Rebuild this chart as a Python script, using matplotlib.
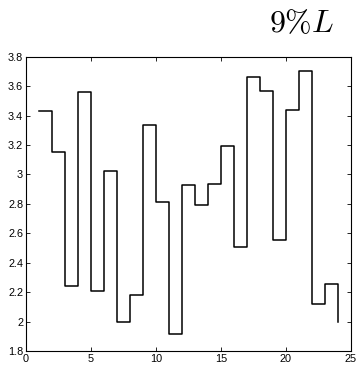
import numpy as np
import matplotlib.pyplot as plt

# step values, one per unit of x (steps-post)
x_vals = list(range(1, 25))
y_vals = [3.43, 3.155, 2.24, 3.56, 2.21, 3.02, 2.0, 2.18, 3.335, 2.81, 1.915, 2.925,
          2.79, 2.935, 3.19, 2.51, 3.66, 3.565, 2.555, 3.44, 3.705, 2.12, 2.255, 2.0]

x_ticks = [0, 5, 10, 15, 20, 25]
y_ticks = [1.8, 2.0, 2.2, 2.4, 2.6, 2.8, 3.0, 3.2, 3.4, 3.6, 3.8]
y_labels = ['1.8', '2', '2.2', '2.4', '2.6', '2.8', '3', '3.2', '3.4', '3.6', '3.8']

plt.rcParams['font.family'] = ['Liberation Sans', 'DejaVu Sans']
plt.rcParams['mathtext.fontset'] = 'cm'

fig = plt.figure(figsize=(3.58, 3.66), dpi=100)
ax = fig.add_axes([0.0726, 0.041, 0.9074, 0.804])

ax.plot(x_vals, y_vals, drawstyle='steps-post', color='black', lw=1.1)

ax.set_xlim(0, 25)
ax.set_ylim(1.8, 3.8)
ax.set_xticks(x_ticks)
ax.set_yticks(y_ticks)
ax.set_yticklabels(y_labels)
ax.tick_params(direction='in', top=True, right=True, length=3, width=0.6,
               labelsize=7.8, pad=2)
for sp in ax.spines.values():
    sp.set_linewidth(0.8)

fig.text(334 / 358, 1 - 32 / 366, r'$9\%L$', ha='right', va='baseline', fontsize=23)

fig.savefig('out.png', dpi=100)
